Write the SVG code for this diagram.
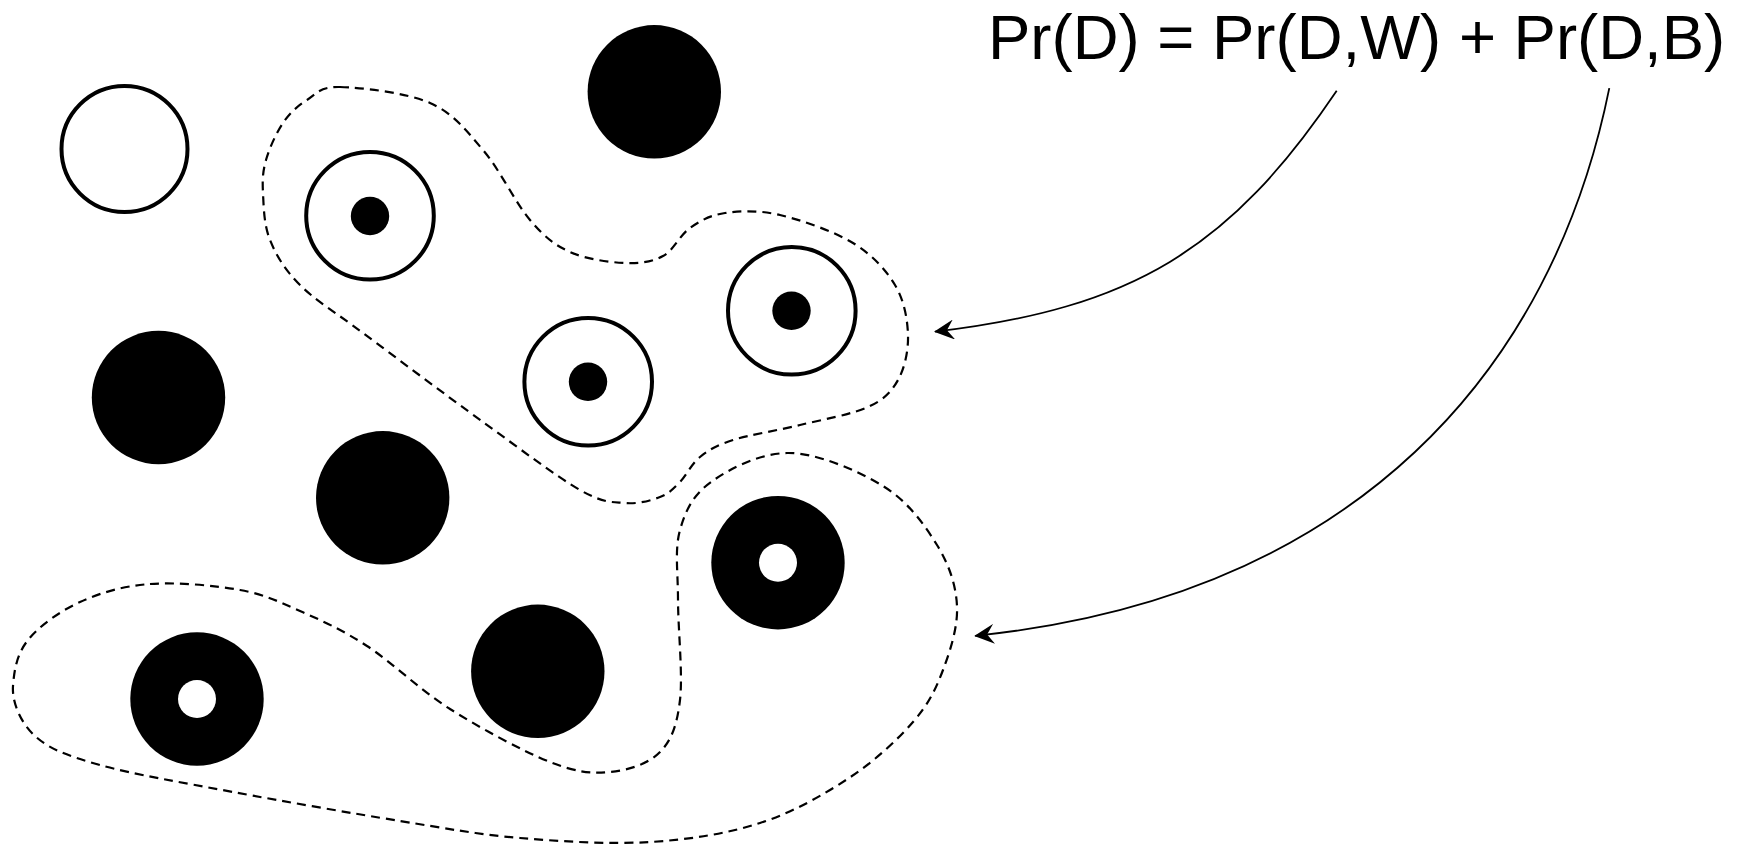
<svg xmlns="http://www.w3.org/2000/svg" width="1745" height="849" viewBox="0 0 1745 849">
<style>
.ring{fill:#fff;stroke:#000;stroke-width:4}
.dot{fill:#000}
.solid{fill:#000}
.hole{fill:#fff}
.blob{fill:none;stroke:#000;stroke-width:2.2;stroke-dasharray:9 6}
.conn{fill:none;stroke:#000;stroke-width:1.8}
.lbl{font-family:"Liberation Sans",Arial,Helvetica,sans-serif;font-size:63.5px;fill:#000}
</style>
<defs>
<marker id="arr" markerUnits="userSpaceOnUse" viewBox="0 0 20 20" markerWidth="20" markerHeight="20" refX="19" refY="10" orient="auto">
<path d="M0,0 L20,10 L0,20 L7,10 Z" fill="#000"/>
</marker>
</defs>
<rect width="1745" height="849" fill="#fff"/>

<g id="group-white">
<path class="blob" d="M340,87 C360.5,87.5 406.2,92.5 430,103 C453.8,113.5 466.3,130.5 483,150 C499.7,169.5 515.5,203 530,220 C544.5,237 554.2,244.8 570,252 C585.8,259.2 609.5,262.3 625,263 C640.5,263.7 652.2,261.8 663,256 C673.8,250.2 679.7,235.2 690,228 C700.3,220.8 710,215.2 725,213 C740,210.8 758.7,210 780,215 C801.3,220 833.8,231.3 853,243 C872.2,254.7 885.8,269.7 895,285 C904.2,300.3 907.5,319.2 908,335 C908.5,350.8 904.7,368 898,380 C891.3,392 884.3,399.5 868,407 C851.7,414.5 822.5,419.5 800,425 C777.5,430.5 749.7,434.7 733,440 C716.3,445.3 708.8,450 700,457 C691.2,464 686.7,475.3 680,482 C673.3,488.7 669.2,493.5 660,497 C650.8,500.5 638.3,504.2 625,503 C611.7,501.8 603.7,503.5 580,490 C556.3,476.5 519.2,448.2 483,422 C446.8,395.8 393.5,355.8 363,333 C332.5,310.2 315.5,300.5 300,285 C284.5,269.5 276.2,255.3 270,240 C263.8,224.7 263.7,206.3 263,193 C262.3,179.7 262.7,171.7 266,160 C269.3,148.3 276.2,133 283,123 C289.8,113 297.5,106 307,100 C316.5,94 319.5,86.5 340,87 Z"/>
</g>
<g id="group-black">
<path class="blob" d="M150,584 C176.7,582 215,585.5 240,590 C265,594.5 278.8,601.7 300,611 C321.2,620.3 342,629.7 367,646 C392,662.3 419.5,689.7 450,709 C480.5,728.3 523.3,751.5 550,762 C576.7,772.5 591.7,773.7 610,772 C628.3,770.3 648.3,764 660,752 C671.7,740 677,725.3 680,700 C683,674.7 678,628.3 678,600 C678,571.7 674.5,549.7 680,530 C685.5,510.3 693.2,494.8 711,482 C728.8,469.2 758.3,453.7 787,453 C815.7,452.3 858,470.7 883,486 C908,501.3 924.7,525 937,545 C949.3,565 956,585.2 957,606 C958,626.8 950.3,650.7 943,670 C935.7,689.3 928.7,704 913,722 C897.3,740 874.5,761.2 849,778 C823.5,794.8 793.2,812.3 760,823 C726.8,833.7 690,839.5 650,842 C610,844.5 561.7,841.5 520,838 C478.3,834.5 447.8,828.7 400,821 C352.2,813.3 283,801.3 233,792 C183,782.7 133,774.3 100,765 C67,755.7 49.5,749.2 35,736 C20.5,722.8 11.8,702 13,686 C14.2,670 16.8,654 28,640 C39.2,626 59.7,611.3 80,602 C100.3,592.7 123.3,586 150,584 Z"/>
</g>

<g id="ball-white-empty"><circle class="ring" cx="124.5" cy="149" r="63"/></g>
<g id="ball-black-top"><circle class="solid" cx="654.3" cy="91.8" r="66.7"/></g>
<g id="ball-black-left"><circle class="solid" cx="158.5" cy="397.5" r="66.7"/></g>
<g id="ball-black-mid"><circle class="solid" cx="382.7" cy="497.8" r="66.7"/></g>
<g id="ball-black-low"><circle class="solid" cx="537.8" cy="671.3" r="66.7"/></g>

<g id="ball-white-dot-1"><circle class="ring" cx="370" cy="215.8" r="63.8"/><circle class="dot" cx="370" cy="216" r="19.2"/></g>
<g id="ball-white-dot-2"><circle class="ring" cx="588.2" cy="381.8" r="63.8"/><circle class="dot" cx="588" cy="381.8" r="19.2"/></g>
<g id="ball-white-dot-3"><circle class="ring" cx="791.8" cy="310.8" r="63.8"/><circle class="dot" cx="791.5" cy="310.8" r="19.2"/></g>

<g id="ball-black-hole-1"><circle class="solid" cx="778" cy="562.7" r="66.7"/><circle class="hole" cx="778" cy="562.7" r="19"/></g>
<g id="ball-black-hole-2"><circle class="solid" cx="197" cy="699" r="66.7"/><circle class="hole" cx="197" cy="699" r="19"/></g>

<g id="formula"><text class="lbl" x="988" y="59">Pr(D) = Pr(D,W) + Pr(D,B)</text></g>

<g id="connectors">
<path class="conn" d="M1336.7,90.7 C1229.7,249.2 1132.6,308.4 935,331.7" marker-end="url(#arr)"/>
<path class="conn" d="M1609.3,88.1 C1552.8,367.9 1358.9,596.1 975.2,635.8" marker-end="url(#arr)"/>
</g>
</svg>
